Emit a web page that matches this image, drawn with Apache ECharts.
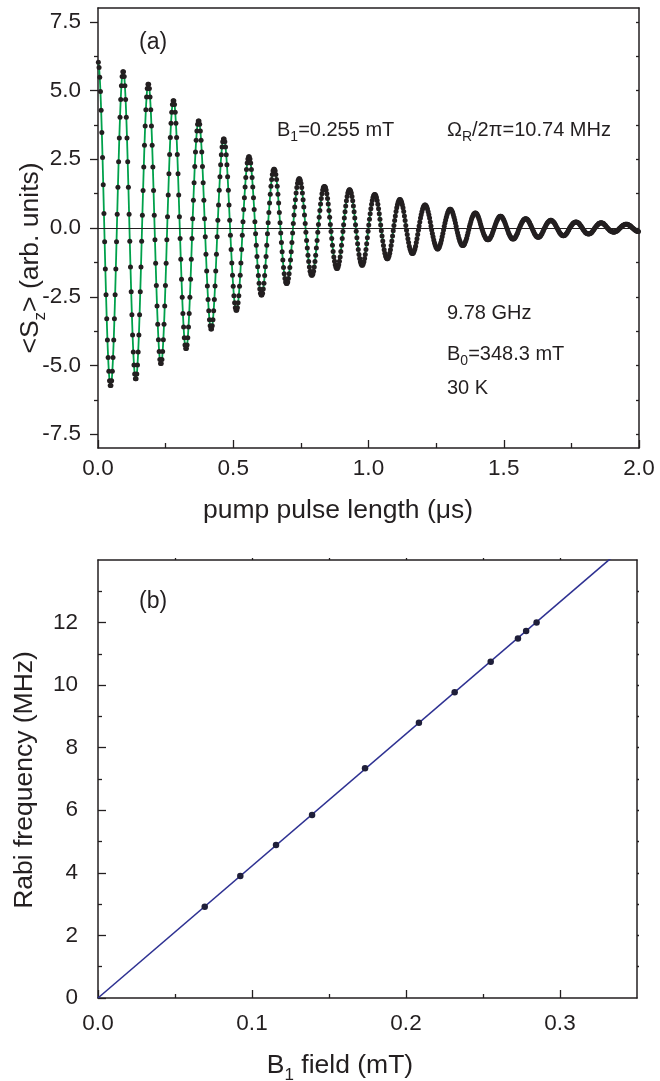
<!DOCTYPE html>
<html><head><meta charset="utf-8">
<script src="https://cdn.jsdelivr.net/npm/echarts@6/dist/echarts.min.js"></script>
<style>html,body{margin:0;padding:0;background:#fff}#c{width:660px;height:1081px}</style>
</head><body><div id="c"></div>
<script>
// ---------- Panel (a): Rabi oscillation, <Sz> vs pump pulse length ----------
const pulseStart = 0.0012917;  // µs, first sample
const pulseStep = 0.0025833;   // µs, sampling step of the measured trace
const szValues = [
6.03,5.84,5.48,4.96,4.28,3.47,2.56,1.57,0.53,
-0.50,-1.49,-2.43,-3.30,-4.07,-4.71,-5.21,-5.55,-5.73,-5.73,-5.55,-5.21,-4.71,-4.07,-3.30,-2.43,-1.49,-0.50,
0.50,1.48,2.41,3.27,4.03,4.67,5.17,5.51,5.68,5.68,5.51,5.17,4.67,4.03,3.27,2.41,1.48,0.50,
-0.48,-1.42,-2.32,-3.15,-3.89,-4.51,-4.98,-5.31,-5.48,-5.48,-5.31,-4.98,-4.51,-3.89,-3.15,-2.32,-1.42,-0.48,
0.46,1.36,2.22,3.01,3.71,4.30,4.76,5.07,5.23,5.23,5.07,4.76,4.30,3.71,3.01,2.22,1.36,0.46,
-0.43,-1.28,-2.09,-2.84,-3.50,-4.06,-4.49,-4.78,-4.93,-4.93,-4.78,-4.49,-4.06,-3.50,-2.84,-2.09,-1.28,-0.43,
0.41,1.20,1.97,2.67,3.29,3.81,4.21,4.49,4.63,4.63,4.49,4.21,3.81,3.29,2.67,1.97,1.20,0.41,
-0.38,-1.14,-1.86,-2.52,-3.11,-3.60,-3.99,-4.25,-4.38,-4.38,-4.25,-3.99,-3.60,-3.11,-2.52,-1.86,-1.14,-0.38,
0.34,1.01,1.65,2.24,2.76,3.19,3.53,3.77,3.89,3.89,3.77,3.53,3.19,2.76,2.24,1.65,1.01,0.34,
-0.32,-0.95,-1.56,-2.11,-2.60,-3.01,-3.34,-3.55,-3.67,-3.67,-3.55,-3.34,-3.01,-2.60,-2.11,-1.56,-0.95,-0.32,
0.28,0.84,1.37,1.86,2.30,2.66,2.95,3.14,3.24,3.24,3.14,2.95,2.66,2.30,1.86,1.37,0.84,0.28,
-0.26,-0.78,-1.27,-1.72,-2.12,-2.46,-2.72,-2.90,-2.99,-2.99,-2.90,-2.72,-2.46,-2.12,-1.72,-1.27,-0.78,-0.26,
0.23,0.67,1.10,1.49,1.84,2.13,2.36,2.51,2.59,2.59,2.51,2.36,2.13,1.84,1.49,1.10,0.67,0.23,
-0.21,-0.63,-1.04,-1.41,-1.73,-2.01,-2.22,-2.37,-2.44,-2.44,-2.37,-2.22,-2.01,-1.73,-1.41,-1.04,-0.63,-0.21,
0.19,0.56,0.91,1.23,1.52,1.76,1.95,2.08,2.14,2.14,2.08,1.95,1.76,1.52,1.23,0.91,0.56,0.19,
-0.18,-0.53,-0.86,-1.16,-1.44,-1.66,-1.84,-1.96,-2.02,-2.02,-1.96,-1.84,-1.66,-1.44,-1.16,-0.86,-0.53,-0.18,
0.16,0.47,0.76,1.03,1.27,1.47,1.63,1.74,1.79,1.79,1.74,1.63,1.47,1.27,1.03,0.76,0.47,0.16,
-0.15,-0.45,-0.73,-0.99,-1.22,-1.42,-1.57,-1.67,-1.72,-1.72,-1.67,-1.57,-1.42,-1.22,-0.99,-0.73,-0.45,-0.15,
0.13,0.39,0.64,0.87,1.07,1.25,1.38,1.47,1.51,1.51,1.47,1.38,1.25,1.07,0.87,0.64,0.39,0.13,
-0.13,-0.38,-0.63,-0.85,-1.05,-1.21,-1.34,-1.43,-1.47,-1.47,-1.43,-1.34,-1.21,-1.05,-0.85,-0.63,-0.38,-0.13,
0.12,0.36,0.59,0.80,0.99,1.15,1.27,1.35,1.39,1.39,1.35,1.27,1.15,0.99,0.80,0.59,0.36,0.12,
-0.12,-0.35,-0.57,-0.78,-0.96,-1.11,-1.23,-1.31,-1.35,-1.35,-1.31,-1.23,-1.11,-0.96,-0.78,-0.57,-0.35,-0.12,
0.11,0.32,0.52,0.70,0.86,1.00,1.11,1.18,1.22,1.22,1.18,1.11,1.00,0.86,0.70,0.52,0.32,0.11,
-0.10,-0.29,-0.47,-0.64,-0.79,-0.92,-1.02,-1.08,-1.12,-1.12,-1.08,-1.02,-0.92,-0.79,-0.64,-0.47,-0.29,-0.10,
0.09,0.27,0.44,0.60,0.74,0.85,0.94,1.00,1.04,1.04,1.00,0.94,0.85,0.74,0.60,0.44,0.27,0.09,
-0.08,-0.24,-0.39,-0.53,-0.66,-0.76,-0.84,-0.90,-0.93,-0.93,-0.90,-0.84,-0.76,-0.66,-0.53,-0.39,-0.24,-0.08,
0.07,0.22,0.36,0.48,0.59,0.69,0.76,0.81,0.84,0.84,0.81,0.76,0.69,0.59,0.48,0.36,0.22,0.07,
-0.07,-0.20,-0.32,-0.44,-0.54,-0.62,-0.69,-0.73,-0.76,-0.76,-0.73,-0.69,-0.62,-0.54,-0.44,-0.32,-0.20,-0.07,
0.06,0.18,0.29,0.39,0.48,0.56,0.62,0.66,0.68,0.68,0.66,0.62,0.56,0.48,0.39,0.29,0.18,0.06,
-0.06,-0.17,-0.27,-0.37,-0.45,-0.52,-0.58,-0.62,-0.64,-0.64,-0.62,-0.58,-0.52,-0.45,-0.37,-0.27,-0.17,-0.06,
0.05,0.14,0.23,0.32,0.39,0.45,0.50,0.53,0.55,0.55,0.53,0.50,0.45,0.39,0.32,0.23,0.14,0.05,
-0.04,-0.11,-0.18,-0.25,-0.30,-0.35,-0.39,-0.42,-0.43,-0.43,-0.42,-0.39,-0.35,-0.30,-0.25,-0.18,-0.11,-0.04,
0.04,0.11,0.18,0.25,0.30,0.35,0.39,0.42,0.43,0.43,0.42,0.39,0.35,0.30,0.25,0.18,0.11,0.04,
-0.03,-0.10,-0.17,-0.23,-0.28,-0.33,-0.36,-0.39,-0.40,-0.40,-0.39,-0.36,-0.33,-0.28,-0.23,-0.17,-0.10,-0.03,
0.03,0.09,0.14,0.20,0.24,0.28,0.31,0.33,0.34,0.34,0.33,0.31,0.28,0.24,0.20,0.14,0.09,0.03,
-0.03,-0.09,-0.14,-0.20,-0.24,-0.28,-0.31,-0.33,-0.34,-0.34,-0.33,-0.31,-0.28,-0.24,-0.20,-0.14,-0.09,-0.03,
0.02,0.07,0.12,0.16,0.20,0.23,0.25,0.27,0.28,0.28,0.27,0.25,0.23,0.20,0.16,0.12,0.07,0.02,
-0.02,-0.07,-0.12,-0.16,-0.20,-0.23,-0.25,-0.27,-0.28,-0.28,-0.27,-0.25,-0.23,-0.20,-0.16,-0.12,-0.07,-0.02,
0.02,0.06,0.09,0.13,0.16,0.18,0.20,0.21,0.22,0.22,0.21,0.20,0.18,0.16,0.13,0.09,0.06,0.02,
-0.02,-0.06,-0.09,-0.13,-0.16,-0.18,-0.20,-0.21,-0.22,-0.22,-0.21,-0.20,-0.18,-0.16,-0.13,-0.09,-0.06,-0.02,
0.02,0.05,0.08,0.11,0.13,0.16,0.17,0.18,0.19,0.19,0.18,0.17,0.16,0.13,0.11,0.08,0.05,0.02,
-0.01,-0.04,-0.06,-0.09,-0.11,-0.12,-0.14,-0.14,-0.15,-0.15,-0.14,-0.14,-0.12,-0.11,-0.09,-0.06,-0.04,-0.01,
0.01,0.04,0.06,0.08,0.10,0.11,0.13,0.14,0.14,0.14,0.14,0.13,0.11,0.10,0.08,0.06,0.04,0.01,
-0.01,-0.03,-0.05,-0.07,-0.09,-0.11,-0.12,-0.13,-0.13
];
const aXTicks = [0, 0.5, 1.0, 1.5, 2.0];
const aXMinor = [0.25, 0.75, 1.25, 1.75];
const aYTicks = [-7.5, -5, -2.5, 0, 2.5, 5, 7.5];
const aYMinor = [-6.25, -3.75, -1.25, 1.25, 3.75, 6.25];
const aYRight = [-7.5, -6.25, -5, -3.75, -2.5, -1.25, 0, 1.25, 2.5, 3.75, 5, 6.25, 7.5];

// ---------- Panel (b): Rabi frequency vs B1 ----------
const b1Field  = [0.0693, 0.0924, 0.1156, 0.1390, 0.1734, 0.2084, 0.2316, 0.2550, 0.2727, 0.2780, 0.2848];
const rabiFreq = [2.92, 3.90, 4.89, 5.85, 7.34, 8.80, 9.77, 10.75, 11.49, 11.73, 12.00];
const fitB1   = [0, 0.34];
const fitRabi = [0, 14.35];
const bXTicks = [0, 0.1, 0.2, 0.3];
const bXMinor = [0.05, 0.15, 0.25];
const bXTop   = [0.05, 0.1, 0.15, 0.2, 0.25, 0.3];
const bYTicks = [0, 2, 4, 6, 8, 10, 12];
const bYMinor = [1, 3, 5, 7, 9, 11, 13];
const bYRight = [1, 2, 3, 4, 5, 6, 7, 8, 9, 10, 11, 12, 13];

const INK = '#231f20';
const FONT = '"Liberation Sans", Arial, sans-serif';

const pulseT = szValues.map((_, i) => +(pulseStart + i * pulseStep).toFixed(6));
const szPairs = szValues.map((v, i) => [pulseT[i], v]);
const bPairs = b1Field.map((x, i) => [x, rabiFreq[i]]);
const fitPairs = fitB1.map((x, i) => [x, fitRabi[i]]);

function ax(o) {
  return {
    type: 'value', gridIndex: o.grid, position: o.pos, min: o.min, max: o.max,
    splitLine: {show: false},
    axisLine: {show: !!o.line, onZero: false, lineStyle: {color: INK, width: 1.5}},
    axisTick: o.ticks ? {show: true, inside: !!o.inside, length: o.len, customValues: o.ticks,
                         lineStyle: {color: INK, width: 1.3}} : {show: false},
    axisLabel: o.labels ? {show: true, customValues: o.labels, formatter: o.fmt,
                           color: INK, fontSize: 22.5, fontFamily: FONT, margin: o.margin} : {show: false}
  };
}
const fmt1 = v => Number(v).toFixed(1);
const fmt0 = v => String(Math.round(v));

const xAxis = [
  ax({grid: 0, pos: 'bottom', min: 0, max: 2, line: true, ticks: aXTicks, inside: true, len: 8, labels: aXTicks, fmt: fmt1, margin: 9}),
  ax({grid: 0, pos: 'top', min: 0, max: 2, line: true}),
  ax({grid: 1, pos: 'bottom', min: 0, max: 2, ticks: aXMinor, inside: true, len: 5}),
  ax({grid: 2, pos: 'bottom', min: 0, max: 0.35, line: true, ticks: bXTicks, inside: true, len: 8, labels: bXTicks, fmt: fmt1, margin: 14}),
  ax({grid: 2, pos: 'top', min: 0, max: 0.35, line: true, ticks: bXTop, inside: false, len: 2}),
  ax({grid: 3, pos: 'bottom', min: 0, max: 0.35, ticks: bXMinor, inside: true, len: 4})
];
const yAxis = [
  ax({grid: 0, pos: 'left', min: -8, max: 8, line: true, ticks: aYTicks, inside: false, len: 8, labels: aYTicks, fmt: fmt1, margin: 17}),
  ax({grid: 0, pos: 'right', min: -8, max: 8, line: true, ticks: aYRight, inside: true, len: 3}),
  ax({grid: 1, pos: 'left', min: -8, max: 8, ticks: aYMinor, inside: false, len: 4}),
  ax({grid: 2, pos: 'left', min: 0, max: 14, line: true, ticks: bYTicks, inside: true, len: 8, labels: bYTicks, fmt: fmt0, margin: 20}),
  ax({grid: 2, pos: 'right', min: 0, max: 14, line: true, ticks: bYRight, inside: false, len: 2}),
  ax({grid: 3, pos: 'left', min: 0, max: 14, ticks: bYMinor, inside: true, len: 4})
];

const subRich = {
  n: {fontSize: 20, fontFamily: FONT, color: INK},
  s: {fontSize: 14, fontFamily: FONT, color: INK, padding: [14, 0, 0, 0]}
};
const titleRich = {
  n: {fontSize: 26.5, fontFamily: FONT, color: INK},
  s: {fontSize: 17, fontFamily: FONT, color: INK, padding: [18, 0, 0, 0]}
};
function txt(x, y, text, opt) {
  opt = opt || {};
  return {
    type: 'text', x: x, y: y, rotation: opt.rot || 0, silent: true, z: 100,
    style: {text: text, rich: opt.rich || subRich, fill: INK, font: (opt.size || 20) + 'px ' + FONT,
            align: opt.align || 'left', verticalAlign: 'middle'}
  };
}

const option = {
  animation: false,
  backgroundColor: '#ffffff',
  grid: [
    {left: 98, top: 8, width: 541, height: 440},
    {left: 98, top: 8, width: 541, height: 440},
    {left: 98, top: 560, width: 539, height: 438},
    {left: 98, top: 560, width: 539, height: 438}
  ],
  xAxis: xAxis,
  yAxis: yAxis,
  series: [
    {type: 'line', xAxisIndex: 0, yAxisIndex: 0, data: szPairs, showSymbol: false, smooth: 0.3,
     lineStyle: {color: '#00a14b', width: 1.8}, z: 2,
     markLine: {silent: true, symbol: 'none', label: {show: false}, animation: false,
                lineStyle: {color: INK, width: 1.2, type: 'solid'}, data: [{yAxis: 0}]}},
    {type: 'scatter', xAxisIndex: 0, yAxisIndex: 0, data: szPairs, symbol: 'circle', symbolSize: 5,
     itemStyle: {color: INK, opacity: 1}, z: 3},
    {type: 'line', xAxisIndex: 3, yAxisIndex: 3, data: fitPairs, showSymbol: false, clip: true,
     lineStyle: {color: '#2e3192', width: 1.6}, z: 2},
    {type: 'scatter', xAxisIndex: 3, yAxisIndex: 3, data: bPairs, symbol: 'circle', symbolSize: 6.5,
     itemStyle: {color: '#1f1f3a', opacity: 1}, z: 3}
  ],
  graphic: [
    txt(139, 43, '{n|(a)}', {rich: {n: {fontSize: 23, fontFamily: FONT, color: INK}}}),
    txt(277, 130, '{n|B}{s|1}{n|=0.255 mT}'),
    txt(447, 130, '{n|Ω}{s|R}{n|/2π=10.74 MHz}'),
    txt(447, 313, '{n|9.78 GHz}'),
    txt(447, 354, '{n|B}{s|0}{n|=348.3 mT}'),
    txt(447, 388, '{n|30 K}'),
    txt(338, 511, '{n|pump pulse length (μs)}', {rich: titleRich, align: 'center'}),
    txt(31, 258, '{n|<S}{s|z}{n|> (arb. units)}', {rich: titleRich, align: 'center', rot: Math.PI / 2}),
    txt(139, 602, '{n|(b)}', {rich: {n: {fontSize: 23, fontFamily: FONT, color: INK}}}),
    txt(25, 780, '{n|Rabi frequency (MHz)}', {rich: titleRich, align: 'center', rot: Math.PI / 2}),
    txt(340, 1066, '{n|B}{s|1}{n| field (mT)}', {rich: titleRich, align: 'center'})
  ]
};
const chart = echarts.init(document.getElementById('c'), null, {renderer: 'canvas'});
chart.setOption(option);
</script>
</body></html>
